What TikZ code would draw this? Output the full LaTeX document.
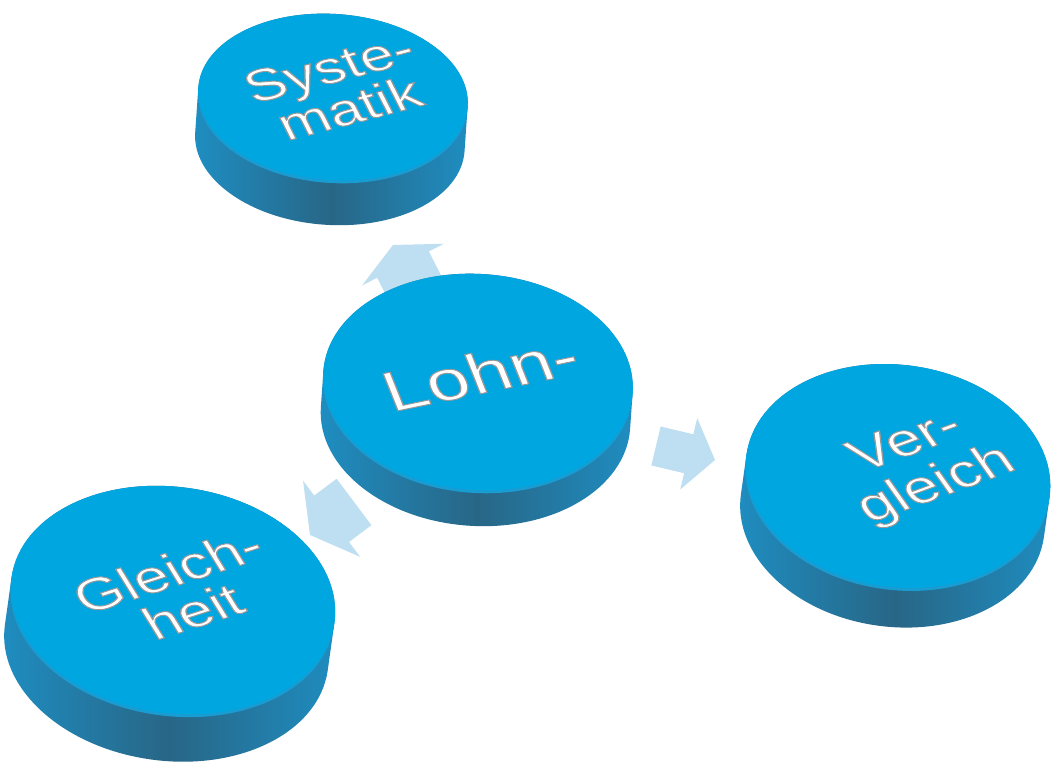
\documentclass[tikz,border=0pt]{standalone}
\usepackage{fontspec}
\setmainfont{Liberation Sans}
\usetikzlibrary{arrows.meta}

\definecolor{disc-face}{RGB}{0,166,224}
\definecolor{disc-rim}{RGB}{24,156,210}
\definecolor{disc-side}{RGB}{30,142,194}
\definecolor{disc-dark}{RGB}{40,102,134}
\definecolor{flow-blue}{RGB}{190,222,242}

\tikzset{
  letter face/.style={transform shape, text=white, align=center, inner sep=0pt},
  flow/.style={draw=flow-blue, line width=#1},
}

% disc: center, x radius, y radius, height, rotation
\newcommand{\disc}[5]{%
  \begin{scope}[shift={#1}, rotate=#5]
    \shade[left color=disc-side, right color=disc-side, middle color=disc-dark]
      (-#2,0) -- (-#2,-#4) arc[start angle=180, end angle=360, x radius=#2, y radius=#3]
      -- (#2,0) arc[start angle=0, end angle=180, x radius=#2, y radius=#3] -- cycle;
    \fill[disc-rim] (0,-3) ellipse [x radius=#2, y radius=#3];
    \fill[disc-face] (0,0) ellipse [x radius=#2, y radius=#3];
  \end{scope}}

% white letters with a grey edge
\newcommand{\raised}[1]{\special{pdf:literal direct 2 Tr 0.6 G 1.3 w}#1\special{pdf:literal direct 0 Tr}}

% label on a disc: name, position, rotation, font size, text
\newcommand{\embossed}[5]{%
  \begin{scope}[shift={#2}, yscale=0.72]
    \node[letter face, rotate=#3, font=\fontsize#4\selectfont] (#1) at (0,0) {#5};
  \end{scope}}

\begin{document}
\begin{tikzpicture}[x=1pt, y=1pt]

    % Background
    \useasboundingbox (0,0) rectangle (1053,767);
    \fill[white] (0,0) rectangle (1053,767);

    % Arrows
    \coordinate (up-tail) at (420,469);
    \coordinate (up-tip) at (393,522);
    \coordinate (right-tail) at (656,321);
    \coordinate (right-tip) at (715,307);
    \coordinate (left-tail) at (354,265);
    \coordinate (left-tip) at (310,232);
    \draw[flow=58pt, -{Triangle[length=22pt, width=91pt]}] (up-tail) -- (up-tip);
    \draw[flow=40pt, -{Triangle[length=27pt, width=72pt]}] (right-tail) -- (right-tip);
    \draw[flow=58pt, -{Triangle[length=27pt, width=94pt]}] (left-tail) -- (left-tip);

    % Discs
    \disc{(333,670)}{135}{83}{45}{-4}
    \disc{(898,291)}{153}{111}{40}{-8}
    \disc{(173,167)}{163}{113}{48}{-8}
    \disc{(478,385)}{155}{108}{36}{-4}

    % Labels
    \embossed{syst}{(339,679)}{20}{{62}{60}}{\raised{Syste-}\\\raised{matik}}
    \embossed{verg}{(922,302)}{27}{{64}{66}}{\raised{Ver-}\\\raised{gleich}}
    \embossed{gleich}{(180,176)}{24}{{63}{61}}{\raised{Gleich-}\\\raised{heit}}
    \embossed{lohn}{(480,394)}{16}{{78}{78}}{\raised{Lohn-}}

\end{tikzpicture}
\end{document}
